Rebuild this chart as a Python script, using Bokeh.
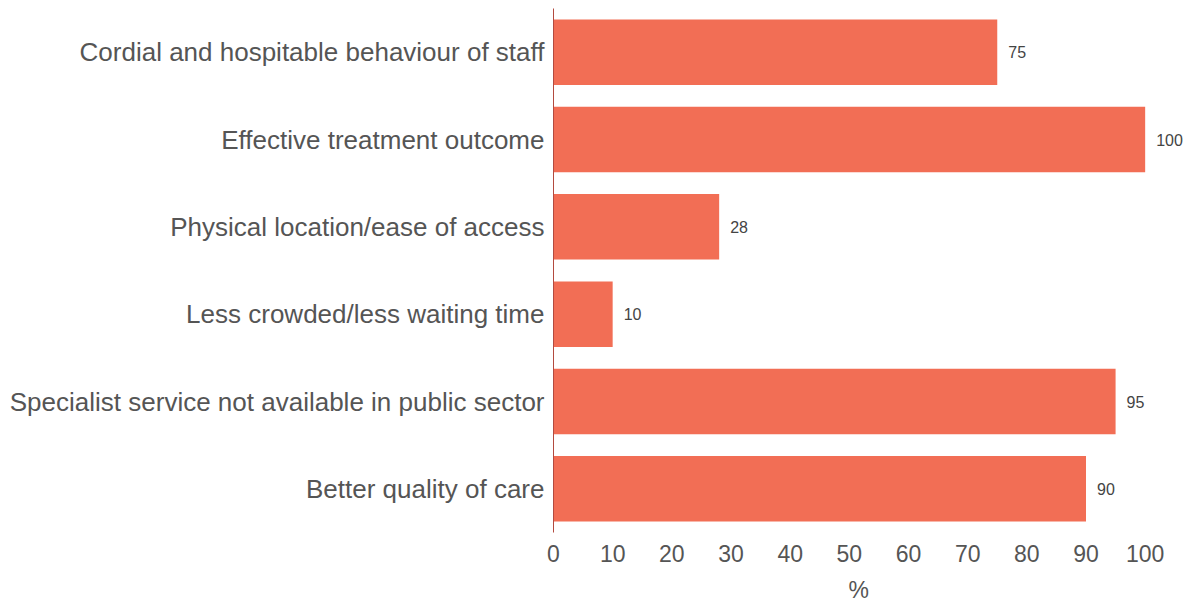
from bokeh.plotting import figure
from bokeh.models import FactorRange, Range1d, ColumnDataSource, FixedTicker, Title
from bokeh.core.properties import value
from bokeh.embed import file_html
from bokeh.resources import INLINE

categories = [
    "Cordial and hospitable behaviour of staff",
    "Effective treatment outcome",
    "Physical location/ease of access",
    "Less crowded/less waiting time",
    "Specialist service not available in public sector",
    "Better quality of care",
]
values = [75, 100, 28, 10, 95, 90]
ticks = [0, 10, 20, 30, 40, 50, 60, 70, 80, 90, 100]
x_title = "%"

FONT = "Liberation Sans"

src = ColumnDataSource(dict(cat=categories, val=values, lab=[str(v) for v in values]))

p = figure(
    width=1192, height=612,
    y_range=FactorRange(*list(reversed(categories)), range_padding=0),
    x_range=Range1d(0, 108),
    output_backend="svg", toolbar_location=None,
    min_border_left=553, min_border_right=0, min_border_top=8, min_border_bottom=0,
)
p.outline_line_color = None
p.background_fill_color = "white"
p.border_fill_color = "white"
p.grid.visible = False

p.hbar(y="cat", right="val", left=0, height=0.75, source=src,
       fill_color="#F26E55", line_color=None)
p.text(x="val", y="cat", text="lab", source=src, x_offset=11,
       text_baseline="middle", text_align="left",
       text_font=value(FONT), text_font_size="16px", text_color="#444444")

p.xaxis.ticker = FixedTicker(ticks=ticks)
p.xaxis.axis_line_color = None
p.xaxis.major_tick_line_color = None
p.xaxis.minor_tick_line_color = None
p.xaxis.major_label_text_font = FONT
p.xaxis.major_label_text_font_size = "23px"
p.xaxis.major_label_text_color = "#555555"
p.xaxis.major_label_standoff = 6

t = Title(text=x_title, align="left", offset=295, standoff=20,
          vertical_align="bottom", text_line_height=0.7,
          text_font=FONT, text_font_size="23px", text_font_style="normal",
          text_color="#555555")
p.add_layout(t, "below")

p.yaxis.axis_line_color = "#b34a3f"
p.yaxis.axis_line_width = 1
p.yaxis.major_tick_line_color = None
p.yaxis.minor_tick_line_color = None
p.yaxis.major_label_text_font = FONT
p.yaxis.major_label_text_font_size = "26px"
p.yaxis.major_label_text_color = "#555555"
p.yaxis.major_label_standoff = 3

open("out.html", "w").write(file_html(p, INLINE))
